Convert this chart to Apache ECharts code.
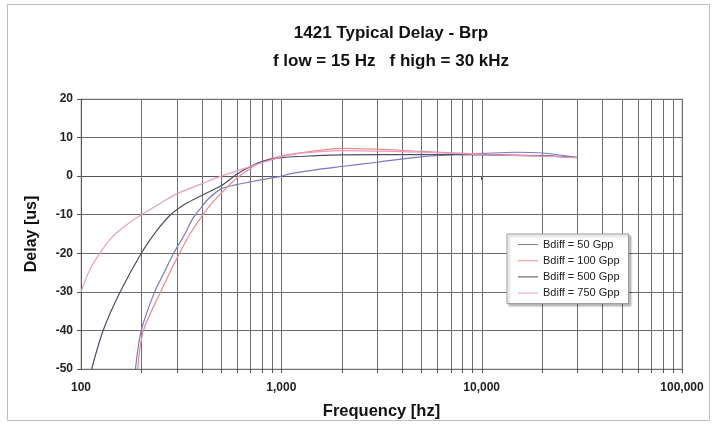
<!DOCTYPE html>
<html>
<head>
<meta charset="utf-8">
<script src="https://cdn.jsdelivr.net/npm/echarts@6/dist/echarts.min.js"></script>
<style>html,body{margin:0;padding:0;background:#fff}#c{width:715px;height:425px}</style>
</head>
<body>
<div id="c"></div>
<script>
// ---- data ----
const seriesNames = ['Bdiff = 50 Gpp', 'Bdiff = 100 Gpp', 'Bdiff = 500 Gpp', 'Bdiff = 750 Gpp'];

const freq50  = [187, 200, 233, 260, 290, 330, 361, 400, 430, 500, 600, 700, 800, 1000, 1100, 1500, 2000, 3000, 5000, 8000, 10000, 15000, 20000, 30000];
const delay50 = [-50, -40, -30, -25, -20, -15, -11, -8, -6, -3.3, -2.2, -1.5, -0.9, 0, 0.6, 1.7, 2.5, 3.6, 5, 5.7, 5.9, 6.2, 6.0, 4.9];

const freq100  = [192, 205, 250, 303, 350, 400, 450, 500, 600, 700, 800, 1000, 1500, 2000, 3000, 5000, 10000, 20000, 30000];
const delay100 = [-50, -40, -30, -21, -15, -10.5, -7, -4.5, -0.5, 2, 3.8, 5.2, 6.6, 7.2, 7.0, 6.4, 5.7, 5.3, 4.8];

const freq500  = [113, 129, 157, 200, 240, 280, 330, 400, 500, 600, 700, 800, 1000, 1500, 2000, 5000, 10000, 20000, 30000];
const delay500 = [-50, -40, -30, -20, -14, -10, -7.3, -5, -2.5, 0.5, 2.5, 3.8, 4.8, 5.3, 5.5, 5.6, 5.5, 5.3, 4.8];

const freq750  = [100, 110, 124, 145, 170, 200, 250, 300, 400, 500, 700, 1000, 1200, 2000, 5000, 10000, 20000, 30000];
const delay750 = [-30, -24.5, -20, -15.5, -12.5, -10, -7, -4.6, -2, 0, 2.5, 5, 5.8, 6.6, 6.2, 5.6, 5.2, 4.8];

const yTicks = [20, 10, 0, -10, -20, -30, -40, -50];
const xDecades = [100, 1000, 10000, 100000];
const gridFreqs = [200,300,400,500,600,700,800,900,1000,2000,3000,4000,5000,6000,7000,8000,9000,10000,20000,30000,40000,50000,60000,70000,80000,90000,100000];

const colors = ['#7a78c4', '#f08a8a', '#4c4c6c', '#e89cc4'];

const pairs = (xs, ys) => xs.map((x, i) => [x, ys[i]]);
const allData = [pairs(freq50, delay50), pairs(freq100, delay100), pairs(freq500, delay500), pairs(freq750, delay750)];

const font = '"Liberation Sans", Arial, sans-serif';

const chart = echarts.init(document.getElementById('c'), null, {renderer: 'canvas'});

const gridTop = yTicks[0], gridBottom = yTicks[yTicks.length - 1];

const lineSeries = seriesNames.map((n, i) => ({
  name: n,
  type: 'line',
  data: allData[i],
  smooth: 0.3,
  symbol: 'none',
  clip: true,
  lineStyle: {color: colors[i], width: 1.2},
  itemStyle: {color: colors[i]},
  z: 5
}));

chart.setOption({
  animation: false,
  backgroundColor: '#fff',
  graphic: [{
    type: 'rect', shape: {x: 7.5, y: 4.5, width: 702, height: 416},
    style: {fill: 'none', stroke: '#bdbdbd', lineWidth: 1}, z: -10
  }],
  title: {
    text: '1421 Typical Delay - Brp\nf low = 15 Hz   f high = 30 kHz',
    left: 386, top: 14, textAlign: 'center',
    textStyle: {fontFamily: font, fontSize: 17, fontWeight: 'bold', color: '#111', lineHeight: 28}
  },
  legend: {
    data: seriesNames,
    orient: 'vertical',
    left: 507, top: 234,
    padding: [5, 9, 5, 11],
    icon: 'path://M0,0 L20,0 L20,1 L0,1 Z',
    itemWidth: 20, itemHeight: 1.5, itemGap: 5.2,
    backgroundColor: '#fff',
    borderColor: '#9a9a9a', borderWidth: 1,
    shadowColor: 'rgba(0,0,0,0.25)', shadowOffsetX: 2, shadowOffsetY: 2, shadowBlur: 2,
    textStyle: {fontFamily: font, fontSize: 11, color: '#222', padding: [0,0,0,0]}
  },
  grid: {left: 81, right: 33, top: 99, bottom: 52, show: true, borderColor: '#bbb', borderWidth: 1},
  xAxis: {
    type: 'log', logBase: 10, min: xDecades[0], max: xDecades[xDecades.length - 1],
    name: 'Frequency [hz]', nameLocation: 'middle', nameGap: 34,
    nameTextStyle: {fontFamily: font, fontSize: 16.5, fontWeight: 'bold', color: '#111'},
    axisLine: {show: true, lineStyle: {color: '#555', width: 1}},
    axisTick: {show: true, length: 4, lineStyle: {color: '#555'}},
    splitLine: {show: false},
    axisLabel: {
      fontFamily: font, fontSize: 12, fontWeight: 'bold', color: '#222', margin: 13,
      formatter: v => Number(v).toLocaleString('en-US')
    }
  },
  yAxis: {
    type: 'value', min: gridBottom, max: gridTop, interval: 10,
    name: 'Delay [us]', nameLocation: 'middle', nameGap: 41, nameRotate: 90,
    nameTextStyle: {fontFamily: font, fontSize: 16, fontWeight: 'bold', color: '#111'},
    axisLine: {show: true, lineStyle: {color: '#555'}},
    axisTick: {show: true, length: 4, lineStyle: {color: '#555'}},
    splitLine: {show: true, lineStyle: {color: '#6e6e6e', width: 1}},
    axisLabel: {fontFamily: font, fontSize: 12, fontWeight: 'bold', color: '#222', margin: 8}
  },
  series: [{
    type: 'custom',
    silent: true,
    clip: false,
    z: 1,
    data: gridFreqs.map(f => [f]),
    renderItem: (params, api) => {
      const f = api.value(0);
      const top = api.coord([f, gridTop]);
      const bot = api.coord([f, gridBottom]);
      const x = Math.round(top[0]) + 0.5;
      return {
        type: 'group',
        children: [
          {type: 'line', shape: {x1: x, y1: top[1], x2: x, y2: bot[1]}, style: {stroke: '#6e6e6e', lineWidth: 1}},
          {type: 'line', shape: {x1: x, y1: bot[1], x2: x, y2: bot[1] + 4}, style: {stroke: '#555', lineWidth: 1}}
        ]
      };
    }
  }].concat(lineSeries)
});
</script>
</body>
</html>
